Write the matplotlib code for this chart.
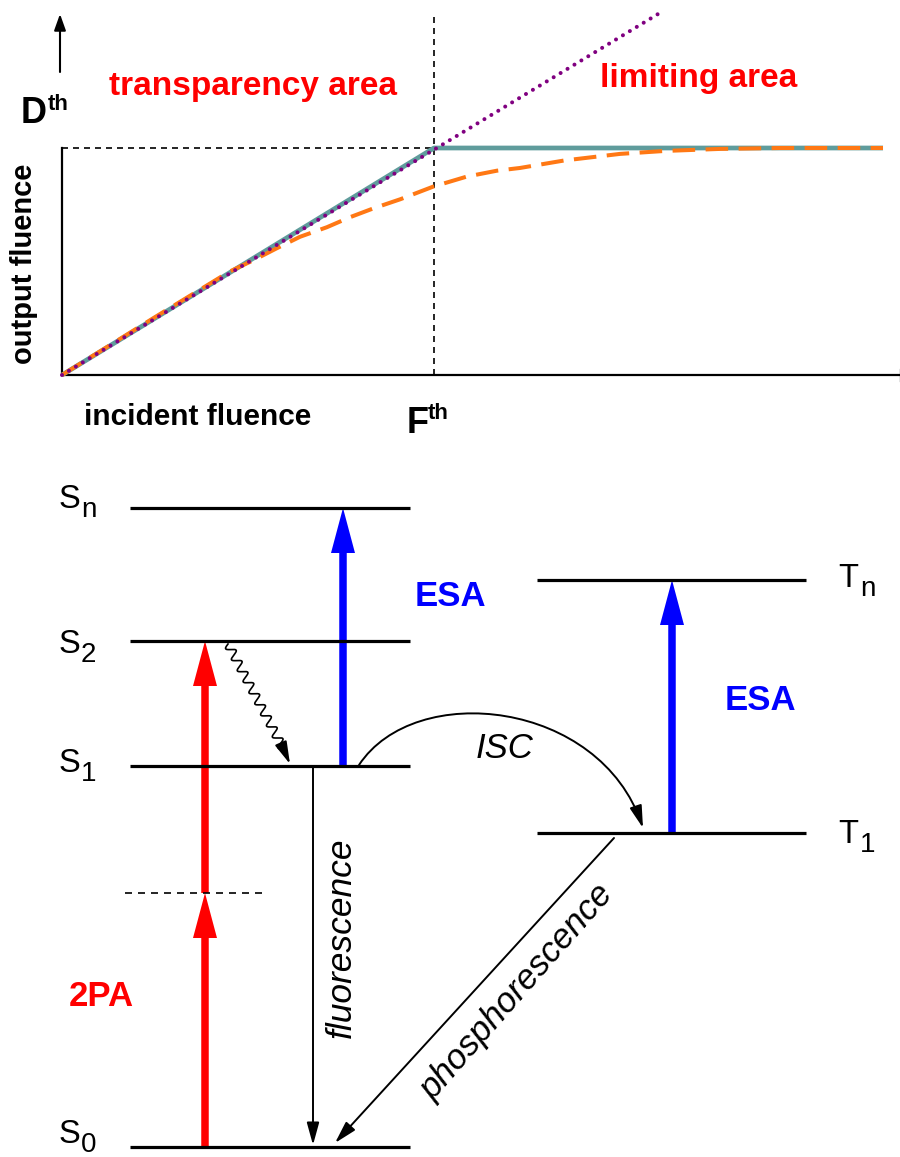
"""Optical limiting sketch (top) and Jablonski-type level diagram (bottom)."""
import numpy as np
import matplotlib

matplotlib.use("Agg")
import matplotlib.pyplot as plt
from matplotlib.patches import FancyArrowPatch
from matplotlib.path import Path

plt.rcParams["font.family"] = ["Liberation Sans", "DejaVu Sans"]

# ---- top panel data (fluence in units of F_th, output in units of D_th) ----
ideal_x = [0.0, 1.0, 2.207]
ideal_y = [0.0, 1.0, 1.0]
linear_x = [0.0, 1.602]
linear_y = [0.0, 1.59]
real_x = [0.0, 0.25, 0.45, 0.52, 0.577, 0.640, 0.712, 0.774, 0.837, 0.909,
          0.998, 1.088, 1.169, 1.231, 1.35, 1.5, 1.62, 1.769, 1.93, 2.207]
real_y = [0.0, 0.255, 0.455, 0.51, 0.558, 0.609, 0.651, 0.695, 0.734, 0.774,
          0.830, 0.874, 0.900, 0.912, 0.945, 0.974, 0.987, 0.996, 1.0, 1.0]
F_TH = 1.0
D_TH = 1.0

# ---- bottom panel data (level heights, diagram pixel units, y downwards) ----
singlet_names = ["0", "1", "2", "n"]
singlet_E = [1147, 766, 641, 508]
triplet_names = ["1", "n"]
triplet_E = [833, 580]
virtual_E = 893

C_TEAL = "#5f9c9c"
C_ORANGE = "#ff7814"
C_PURPLE = "#800080"
RED = "#ff0000"
BLUE = "#0000ff"

W, H = 900, 1157
fig = plt.figure(figsize=(W / 100, H / 100), dpi=100)

# full-figure axes in pixel units for the diagram and decorations
ax = fig.add_axes([0, 0, 1, 1])
ax.set_xlim(0, W)
ax.set_ylim(H, 0)
ax.axis("off")

# ================= top: output vs incident fluence =================
x0, y0 = 62, 375          # origin in pixels
sx, sy = 372, 227         # pixels per F_th / D_th
axt = fig.add_axes([x0 / W, 1 - y0 / H, 841 / W, 360 / H])
axt.set_xlim(0, 841 / sx)
axt.set_ylim(0, 360 / sy)
axt.axis("off")
axt.patch.set_alpha(0)

axt.plot([F_TH, F_TH], [0, 360 / sy], color="black", lw=1.2, dashes=(3.6, 3.0), clip_on=False)
axt.plot([0, F_TH], [D_TH, D_TH], color="black", lw=1.2, dashes=(3.6, 3.0), clip_on=False)
axt.plot(ideal_x, ideal_y, color=C_TEAL, lw=3.4, solid_capstyle="butt", clip_on=False)
axt.plot(real_x, real_y, color=C_ORANGE, lw=2.9, dashes=(5.6, 2.6), clip_on=False)
axt.plot(linear_x, linear_y, color=C_PURPLE, lw=2.9, dashes=(0.01, 2.0),
         dash_capstyle="round", clip_on=False)

# axes drawn by hand
ax.plot([x0, 903], [y0, y0], color="black", lw=1.6, solid_capstyle="butt")
ax.plot([901, 901], [370, 381], color="black", lw=1.6)
ax.plot([x0, x0], [148, y0], color="black", lw=1.6)
ax.annotate("", xy=(60, 14), xytext=(60, 72),
            arrowprops=dict(arrowstyle="-|>,head_length=0.7,head_width=0.25",
                            color="black", lw=1.5, shrinkA=0, shrinkB=0, mutation_scale=14))

ax.text(21, 123, "D", fontsize=26, fontweight="bold", ha="left", va="baseline")
ax.text(48, 110, "th", fontsize=16, fontweight="bold", ha="left", va="baseline")
ax.text(407, 433, "F", fontsize=26, fontweight="bold", ha="left", va="baseline")
ax.text(428, 419, "th", fontsize=16, fontweight="bold", ha="left", va="baseline")
ax.text(109, 95, "transparency area", fontsize=24, fontweight="bold", color=RED,
        ha="left", va="baseline")
ax.text(600, 87, "limiting area", fontsize=24, fontweight="bold", color=RED,
        ha="left", va="baseline")
ax.text(24, 264, "output fluence", fontsize=21, fontweight="bold", rotation=90,
        ha="center", va="center")
ax.text(84, 425, "incident fluence", fontsize=21.5, fontweight="bold",
        ha="left", va="baseline")

# ================= bottom: energy level diagram =================
LW_LEVEL = 2.3
s_left, s_right = 130, 410
t_left, t_right = 537, 806
for E in singlet_E:
    ax.plot([s_left, s_right], [E, E], color="black", lw=LW_LEVEL, solid_capstyle="butt")
for E in triplet_E:
    ax.plot([t_left, t_right], [E, E], color="black", lw=LW_LEVEL, solid_capstyle="butt")
ax.plot([125, 262], [virtual_E, virtual_E], color="black", lw=1.2, dashes=(4.2, 3.6))


def level_label(x, base, main, sub):
    ax.text(x, base, main, fontsize=23.5, ha="left", va="baseline")
    ax.text(x + 22, base + 9, sub, fontsize=20, ha="left", va="baseline")


s_base = {"0": 1143, "1": 772, "2": 653, "n": 508}
for name in singlet_names:
    level_label(59, s_base[name], "S", name)
t_base = {"1": 843, "n": 587}
for name in triplet_names:
    level_label(838, t_base[name], "T", name)


def thick_arrow(x, y_from, y_to, color):
    ax.arrow(x, y_from, 0, y_to - y_from, width=7.5, head_width=24, head_length=45,
             length_includes_head=True, color=color, lw=0)


# two-photon absorption (upper first so the lower head sits on top)
thick_arrow(205, virtual_E, singlet_E[2], RED)
thick_arrow(205, singlet_E[0], virtual_E, RED)
# excited state absorption
thick_arrow(343, singlet_E[1], singlet_E[3], BLUE)
thick_arrow(672, triplet_E[0], triplet_E[1], BLUE)

thin = dict(arrowstyle="-|>,head_length=0.8,head_width=0.22", color="black",
            lw=1.4, shrinkA=0, shrinkB=0, mutation_scale=17)

# fluorescence and phosphorescence
ax.annotate("", xy=(313, 1145), xytext=(313, singlet_E[1]), arrowprops=thin)
ax.annotate("", xy=(335, 1143), xytext=(614, 838), arrowprops=thin)

# internal conversion: wavy line S2 -> S1
p_start = np.array([228.0, 644.0])
p_end = np.array([283.0, 748.0])
d = p_end - p_start
L = np.hypot(*d)
u = d / L
nrm = np.array([-u[1], u[0]])
s = np.linspace(0, L, 400)
wave = 4.3 * np.sin(2 * np.pi * s / 12.5)
pts = p_start + np.outer(s, u) + np.outer(wave, nrm)
ax.plot(pts[:, 0], pts[:, 1], color="black", lw=1.2)
ax.annotate("", xy=(290, 764), xytext=tuple(p_end), arrowprops=thin)

# intersystem crossing arc
isc = Path([(359, 765), (415, 680), (600, 700), (643, 828)],
           [Path.MOVETO, Path.CURVE4, Path.CURVE4, Path.CURVE4])
ax.add_patch(FancyArrowPatch(path=isc, arrowstyle="-|>,head_length=0.8,head_width=0.22",
                             color="black", lw=1.4, mutation_scale=17))

# labels
ax.text(450, 596, "ESA", fontsize=25, fontweight="bold", color=BLUE, ha="center", va="center")
ax.text(760, 700, "ESA", fontsize=25, fontweight="bold", color=BLUE, ha="center", va="center")
ax.text(101, 997, "2PA", fontsize=25, fontweight="bold", color=RED, ha="center", va="center")
ax.text(505, 748, "ISC", fontsize=25, style="italic", ha="center", va="center")
ax.text(341, 938, "fluorescence", fontsize=25.5, style="italic", rotation=90,
        ha="center", va="center")
ax.text(517, 992, "phosphorescence", fontsize=25, style="italic", rotation=48.7,
        rotation_mode="anchor", ha="center", va="center")

fig.savefig("out.png", dpi=100, facecolor="white")
